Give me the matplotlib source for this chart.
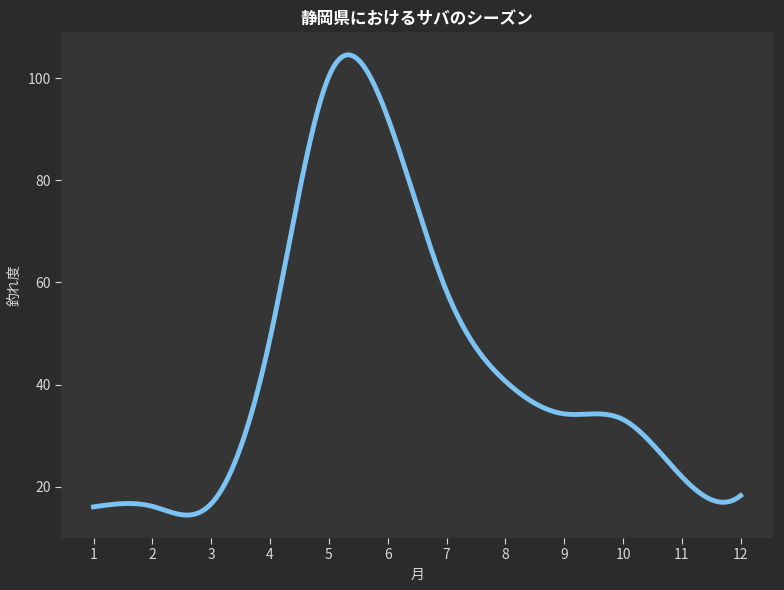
import numpy as np
import matplotlib
matplotlib.use("Agg")
import matplotlib.pyplot as plt

plt.rcParams['font.family'] = ['Noto Sans CJK JP', 'DejaVu Sans']

# 月ごとの釣れ度
months = [1, 2, 3, 4, 5, 6, 7, 8, 9, 10, 11, 12]
catch = [16.1, 16.2, 16.7, 49.0, 100.3, 92.3, 58.3, 40.7, 34.3, 33.2, 22.0, 18.3]

title = "静岡県におけるサバのシーズン"
xlabel = "月"
ylabel = "釣れ度"


def spline(x, y, num=300):
    # 3次スプライン (線を滑らかに描くため)
    # 左端は自然境界、右端は not-a-knot
    x = np.asarray(x, float)
    y = np.asarray(y, float)
    n = len(x)
    m = n - 1
    A = np.zeros((4 * m, 4 * m))
    b = np.zeros(4 * m)
    r = 0
    for i in range(m):
        h = x[i + 1] - x[i]
        A[r, 4 * i] = 1
        b[r] = y[i]
        r += 1
        A[r, 4 * i:4 * i + 4] = [1, h, h ** 2, h ** 3]
        b[r] = y[i + 1]
        r += 1
    for i in range(m - 1):
        h = x[i + 1] - x[i]
        A[r, 4 * i:4 * i + 4] = [0, 1, 2 * h, 3 * h ** 2]
        A[r, 4 * (i + 1) + 1] = -1
        r += 1
        A[r, 4 * i:4 * i + 4] = [0, 0, 2, 6 * h]
        A[r, 4 * (i + 1) + 2] = -2
        r += 1
    A[r, 2] = 1
    r += 1
    A[r, 4 * (m - 2) + 3] = 1
    A[r, 4 * (m - 1) + 3] = -1
    coef = np.linalg.solve(A, b).reshape(m, 4)
    xs = np.linspace(x[0], x[-1], num)
    idx = np.clip(np.searchsorted(x, xs, side='right') - 1, 0, m - 1)
    t = xs - x[idx]
    c = coef[idx]
    ys = c[:, 0] + c[:, 1] * t + c[:, 2] * t ** 2 + c[:, 3] * t ** 3
    return xs, ys


fig, ax = plt.subplots(figsize=(7.84, 5.9), dpi=100)
fig.patch.set_facecolor('#2b2b2b')
ax.set_facecolor('#353535')

xs, ys = spline(months, catch)
ax.plot(xs, ys, color='#7cc3f3', linewidth=3.5)

ax.set_xticks(months)
ax.set_yticks([20, 40, 60, 80, 100])
for s in ax.spines.values():
    s.set_visible(False)
ax.tick_params(colors='#d8d8d8', labelsize=10, length=4)

ax.set_title(title, color='white', fontsize=12, fontweight='bold')
ax.set_xlabel(xlabel, color='#d8d8d8', fontsize=10)
ax.set_ylabel(ylabel, color='#d8d8d8', fontsize=10)

plt.subplots_adjust(left=0.078, right=0.986, top=0.946, bottom=0.088)
plt.savefig('out.png', dpi=100, facecolor=fig.get_facecolor())
